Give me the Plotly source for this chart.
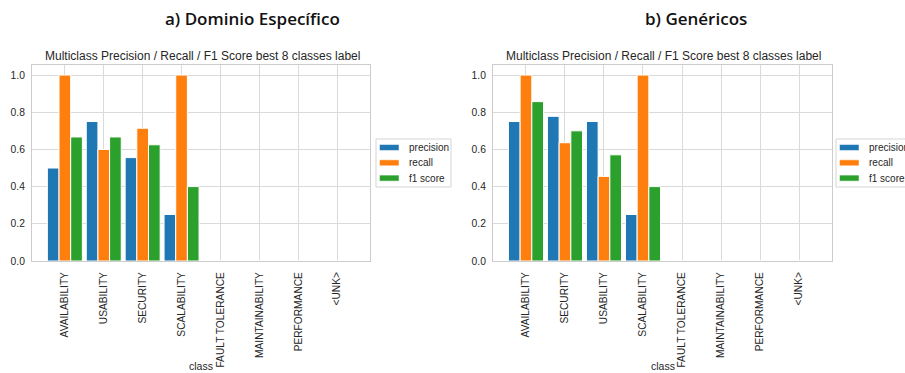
import plotly.graph_objects as go

# ---------------- data ----------------
classes_a = ["AVAILABILITY", "USABILITY", "SECURITY", "SCALABILITY",
             "FAULT TOLERANCE", "MAINTAINABILITY", "PERFORMANCE", "<UNK>"]
precision_a = [0.5, 0.75, 0.556, 0.25, 0, 0, 0, 0]
recall_a = [1.0, 0.6, 0.714, 1.0, 0, 0, 0, 0]
f1_a = [0.667, 0.667, 0.625, 0.4, 0, 0, 0, 0]

classes_b = ["AVAILABILITY", "SECURITY", "USABILITY", "SCALABILITY",
             "FAULT TOLERANCE", "MAINTAINABILITY", "PERFORMANCE", "<UNK>"]
precision_b = [0.75, 0.778, 0.75, 0.25, 0, 0, 0, 0]
recall_b = [1.0, 0.636, 0.455, 1.0, 0, 0, 0, 0]
f1_b = [0.857, 0.7, 0.571, 0.4, 0, 0, 0, 0]

metrics = ["precision", "recall", "f1 score"]
panel_titles = ["a) Dominio Específico", "b) Genéricos"]
subtitle = "Multiclass Precision / Recall / F1 Score best 8 classes label"
y_ticks = [0.0, 0.2, 0.4, 0.6, 0.8, 1.0]
x_label = "class"

# ---------------- style ----------------
W, H = 905, 373
colors = ["#1f77b4", "#ff7f0e", "#2ca02c"]
FONT = "Liberation Sans, Arial, sans-serif"
TXT = "#262626"
GRID = "#dadada"


def px(x):
    return x / W


def py(y):
    return 1 - y / H


fig = go.Figure()

panels = [
    (classes_a, [precision_a, recall_a, f1_a], "x", "y"),
    (classes_b, [precision_b, recall_b, f1_b], "x2", "y2"),
]
for classes, series, xa, ya in panels:
    for name, vals, col in zip(metrics, series, colors):
        fig.add_trace(go.Bar(
            x=classes, y=vals, name=name, xaxis=xa, yaxis=ya,
            marker=dict(color=col, line=dict(color="white", width=1)),
            showlegend=False,
        ))

axis_x_px = [(32, 370), (493, 832)]
y_top, y_bot = 65, 261

common_x = dict(
    type="category", range=[-0.845, 7.845], showgrid=True, gridcolor=GRID,
    gridwidth=1, showline=True, linecolor="#cccccc", linewidth=1, mirror=True,
    tickangle=-90, ticks="", tickfont=dict(family=FONT, size=10.2, color=TXT),
    ticklabelstandoff=6, zeroline=False, fixedrange=True, automargin=False,
)
common_y = dict(
    range=[0, 1.054], tickvals=y_ticks, tickformat=".1f", showgrid=True,
    gridcolor=GRID, gridwidth=1, showline=True, linecolor="#cccccc",
    linewidth=1, mirror=True, ticks="", zeroline=False, automargin=False,
    tickfont=dict(family=FONT, size=10.3, color=TXT), ticklabelstandoff=4,
    domain=[py(y_bot), py(y_top)],
)

fig.update_layout(
    width=W, height=H, margin=dict(l=0, r=0, t=0, b=0, autoexpand=False),
    paper_bgcolor="white", plot_bgcolor="white",
    barmode="group", bargap=0.1, bargroupgap=0,
    xaxis=dict(common_x, domain=[px(axis_x_px[0][0]), px(axis_x_px[0][1])],
               anchor="y", categoryorder="array", categoryarray=classes_a),
    yaxis=dict(common_y, anchor="x"),
    xaxis2=dict(common_x, domain=[px(axis_x_px[1][0]), px(axis_x_px[1][1])],
                anchor="y2", categoryorder="array", categoryarray=classes_b),
    yaxis2=dict(common_y, anchor="x2"),
    showlegend=False,
)

annotations = []
shapes = []
title_centers = [252, 696]
for i, ((x0, x1), tc) in enumerate(zip(axis_x_px, title_centers)):
    cx = (x0 + x1) / 2
    annotations.append(dict(
        text=panel_titles[i], x=px(tc), y=py(18), xref="paper", yref="paper",
        xanchor="center", yanchor="middle", showarrow=False,
        font=dict(family="Open Sans, sans-serif", size=17, color="#111111",
                  weight=600),
    ))
    annotations.append(dict(
        text=subtitle, x=px(cx + 1), y=py(56), xref="paper", yref="paper",
        xanchor="center", yanchor="middle", showarrow=False,
        font=dict(family=FONT, size=12, color=TXT),
    ))
    annotations.append(dict(
        text=x_label, x=px(cx), y=py(373), xref="paper", yref="paper",
        xanchor="center", yanchor="bottom", showarrow=False, borderpad=0,
        font=dict(family=FONT, size=10.5, color=TXT),
    ))

# legends (matplotlib-style boxes)
legend_left = [376, 836]
for lx in legend_left:
    shapes.append(dict(
        type="rect", xref="paper", yref="paper",
        x0=px(lx), x1=px(lx + 75), y0=py(187), y1=py(139),
        line=dict(color="#d5d5d5", width=1), fillcolor="white", layer="above",
    ))
    for j, (name, col) in enumerate(zip(metrics, colors)):
        cy = 147.5 + 15.3 * j
        shapes.append(dict(
            type="rect", xref="paper", yref="paper",
            x0=px(lx + 3.5), x1=px(lx + 23), y0=py(cy + 3), y1=py(cy - 3),
            line=dict(color="white", width=0.5), fillcolor=col, layer="above",
        ))
        annotations.append(dict(
            text=name, x=px(lx + 31), y=py(cy), xref="paper", yref="paper",
            xanchor="left", yanchor="middle", showarrow=False,
            font=dict(family=FONT, size=10, color=TXT),
        ))

fig.update_layout(annotations=annotations, shapes=shapes)
fig.write_html("out.html")
